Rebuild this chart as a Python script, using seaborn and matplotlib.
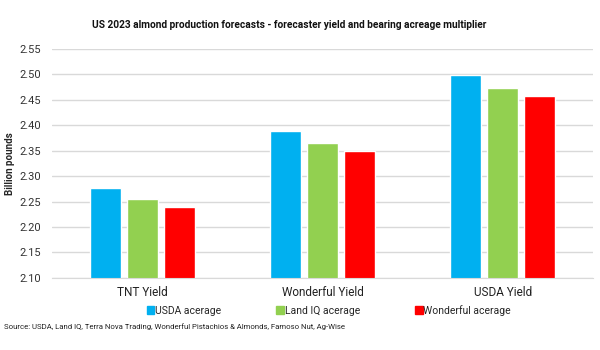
import seaborn as sns
import matplotlib.pyplot as plt
import pandas as pd

# values (billion pounds)
yields = ['TNT Yield', 'Wonderful Yield', 'USDA Yield']
acreage = ['USDA acerage', 'Land IQ acerage', 'Wonderful acerage']
usda_acr = [2.277, 2.388, 2.498]
landiq_acr = [2.255, 2.365, 2.473]
wonderful_acr = [2.240, 2.350, 2.457]
colors = ['#00b0f0', '#92d050', '#ff0000']

df = pd.DataFrame({
    'yield': yields * 3,
    'acreage': [a for a in acreage for _ in yields],
    'value': usda_acr + landiq_acr + wonderful_acr,
})

sns.set_style('white')
plt.rcParams['font.family'] = ['Roboto', 'DejaVu Sans']

fig = plt.figure(figsize=(6, 3.5), dpi=100)
ax = fig.add_axes([0.087, 0.206, 0.901, 0.654])

sns.barplot(data=df, x='yield', y='value', hue='acreage', order=yields,
            hue_order=acreage, palette=colors, width=0.62, gap=0.17,
            saturation=1, ax=ax, legend=False)

ax.set_ylim(2.10, 2.55)
ax.set_yticks([2.10 + 0.05 * i for i in range(10)])
ax.set_yticklabels(['%.2f' % (2.10 + 0.05 * i) for i in range(10)],
                   fontsize=8, color='#333333')
ax.tick_params(axis='x', labelsize=8.5, colors='#222222', length=0, pad=6)
ax.tick_params(axis='y', length=0, pad=8)
ax.yaxis.grid(True, color='#d9d9d9', linewidth=1)
ax.set_axisbelow(True)
for s in ['top', 'right', 'left']:
    ax.spines[s].set_visible(False)
ax.spines['bottom'].set_color('#d9d9d9')
ax.set_xlabel('')
ax.set_ylabel('Billion pounds', fontsize=7, fontweight='bold')
ax.yaxis.set_label_coords(-0.068, 0.5)

fig.text(0.482, 0.93, 'US 2023 almond production forecasts - forecaster yield and bearing acreage multiplier',
         ha='center', va='center', fontsize=7.3, fontweight='bold', color='#111111')

handles = [plt.Rectangle((0, 0), 1, 1, color=c) for c in colors]
fig.legend(handles, acreage, loc='center', bbox_to_anchor=(0.548, 0.114), ncol=3,
           frameon=False, fontsize=7.5, handlelength=0.75, handleheight=0.75,
           handletextpad=0.05, columnspacing=5.3)

fig.text(0.007, 0.068, 'Source: USDA, Land IQ, Terra Nova Trading, Wonderful Pistachios & Almonds, Famoso Nut, Ag-Wise',
         fontsize=5.6, color='#222222', va='center')

fig.savefig('out.png', dpi=100)
